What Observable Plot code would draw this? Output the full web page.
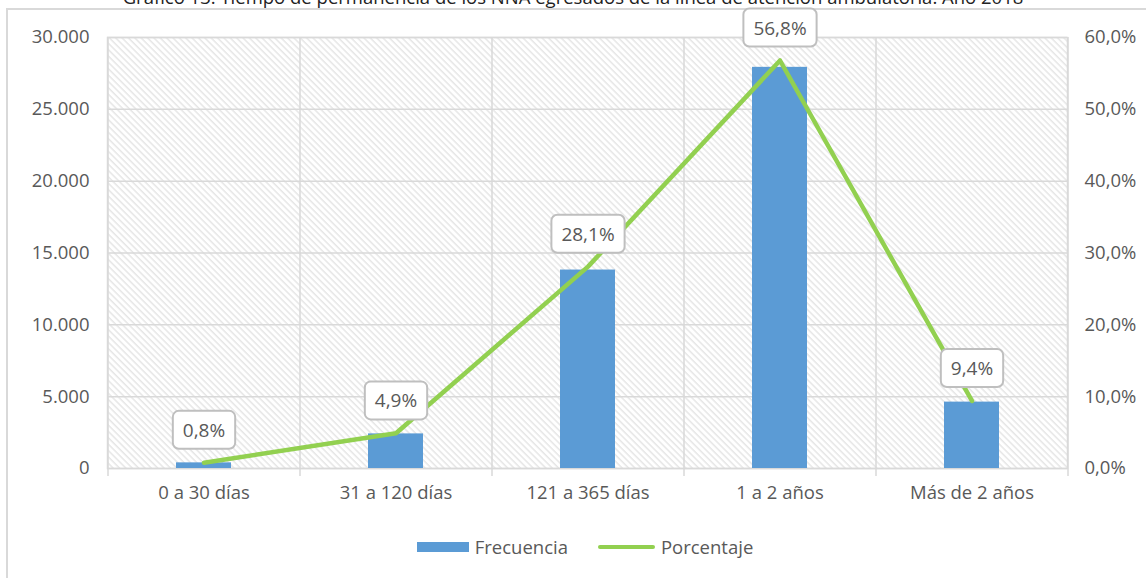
<!DOCTYPE html>
<html>
<head>
<meta charset="utf-8">
<script src="https://cdn.jsdelivr.net/npm/d3@7"></script>
<script src="https://cdn.jsdelivr.net/npm/@observablehq/plot@0.6"></script>
<style>
  html, body { margin: 0; padding: 0; background: #fff; overflow: hidden; }
  #wrap { position: relative; width: 1146px; height: 578px; overflow: hidden; font-family: "Open Sans", Lato, sans-serif; }
  #frame { position: absolute; left: 6px; top: 8px; width: 1200px; height: 620px; border: 2px solid #D9D9D9; box-sizing: border-box; }
  #title { position: absolute; left: 0; width: 1146px; top: -16px; text-align: center; font-size: 18.5px; color: #222; white-space: nowrap; }
  #chart { position: absolute; left: 0; top: 0; }
  #legend { position: absolute; top: 534px; left: 12px; width: 1146px; display: flex; justify-content: center; align-items: center; font-size: 18.5px; color: #595959; }
  .sw { display: inline-block; margin-right: 6px; }
</style>
</head>
<body>
<div id="wrap">
  <div id="frame"></div>
  <div id="title">Gráfico 13: Tiempo de permanencia de los NNA egresados de la línea de atención ambulatoria. Año 2018</div>
  <div id="chart"></div>
  <div id="legend">
    <span class="sw" style="width:52px;height:10px;background:#5B9BD5"></span><span style="margin-right:30px">Frecuencia</span>
    <span class="sw" style="width:57px;height:4px;border-radius:2px;background:#92D050"></span><span>Porcentaje</span>
  </div>
</div>
<script>
const categories = ["0 a 30 días", "31 a 120 días", "121 a 365 días", "1 a 2 años", "Más de 2 años"];
const frecuencia = [393, 2409, 13814, 27923, 4621];
const porcentaje = [0.8, 4.9, 28.1, 56.8, 9.4];
const leftTicks = [0, 5000, 10000, 15000, 20000, 25000, 30000];
const rightTicks = [0, 10, 20, 30, 40, 50, 60];

const pctScale = 30000 / 60; // 60% on right axis aligns with 30.000 on left
const data = categories.map((c, i) => ({cat: c, freq: frecuencia[i], pct: porcentaje[i], pctY: porcentaje[i] * pctScale}));

const fmtThousands = d => d3.format(",")(d).replace(/,/g, ".");
const fmtPct = d => d.toFixed(1).replace(".", ",") + "%";

const plot = Plot.plot({
  width: 1146,
  height: 520,
  marginLeft: 107,
  marginRight: 79,
  marginTop: 37,
  marginBottom: 52,
  style: {fontFamily: "'Open Sans', Lato, sans-serif", fontSize: "18.5px", color: "#595959", background: "transparent"},
  x: {domain: categories, paddingInner: 0.714, paddingOuter: 0.357, label: null},
  y: {domain: [0, 30000], label: null},
  marks: [
    Plot.frame({fill: "url(#hatch)", stroke: "#D9D9D9", strokeWidth: 1.5}),
    Plot.ruleY(leftTicks, {stroke: "#D9D9D9", strokeWidth: 1.5}),
    Plot.ruleX(categories, {x: d => d, dx: -96, stroke: "#D9D9D9", strokeWidth: 1.5, insetBottom: -8}),
    Plot.ruleX(categories.slice(-1), {x: d => d, dx: 96, stroke: "#D9D9D9", strokeWidth: 1.5, insetBottom: -8}),
    Plot.axisY({ticks: leftTicks, tickFormat: fmtThousands, tickSize: 0, tickPadding: 18, label: null, fill: "#595959"}),
    Plot.axisY({anchor: "right", ticks: rightTicks.map(t => t * pctScale), tickFormat: d => fmtPct(d / pctScale), tickSize: 0, tickPadding: 17, label: null, fill: "#595959"}),
    Plot.axisX({tickSize: 0, tickPadding: 17, label: null, fill: "#595959"}),
    Plot.barY(data, {x: "cat", y: "freq", fill: "#5B9BD5"}),
    Plot.line(data, {x: "cat", y: "pctY", stroke: "#92D050", strokeWidth: 4.5, strokeLinejoin: "round", strokeLinecap: "round"}),
    Plot.text(data, {x: "cat", y: "pctY", text: d => fmtPct(d.pct), dy: -32, fontSize: 19, fill: "#595959", className: "pctlabel"})
  ]
});

// hatch pattern definition
const defs = d3.select(plot).insert("defs", ":first-child");
const pat = defs.append("pattern").attr("id", "hatch").attr("patternUnits", "userSpaceOnUse")
  .attr("width", 4.5).attr("height", 4.5).attr("patternTransform", "rotate(-45)");
pat.append("rect").attr("width", 4.5).attr("height", 4.5).attr("fill", "#fff");
pat.append("line").attr("x1", 1).attr("y1", 0).attr("x2", 1).attr("y2", 4.5).attr("stroke", "#DDDDDD").attr("stroke-width", 1.1);

document.getElementById("chart").appendChild(plot);

// label boxes behind percentage labels
d3.select(plot).selectAll("g.pctlabel text").each(function() {
  const b = this.getBBox();
  const padX = 10, padY = 6;
  d3.select(this.parentNode).insert("rect", () => this)
    .attr("x", b.x - padX).attr("y", b.y - padY)
    .attr("width", b.width + 2 * padX).attr("height", b.height + 2 * padY)
    .attr("rx", 6).attr("ry", 6)
    .attr("fill", "#fff").attr("stroke", "#BFBFBF").attr("stroke-width", 2)
    .attr("transform", this.getAttribute("transform"));
});
</script>
</body>
</html>
